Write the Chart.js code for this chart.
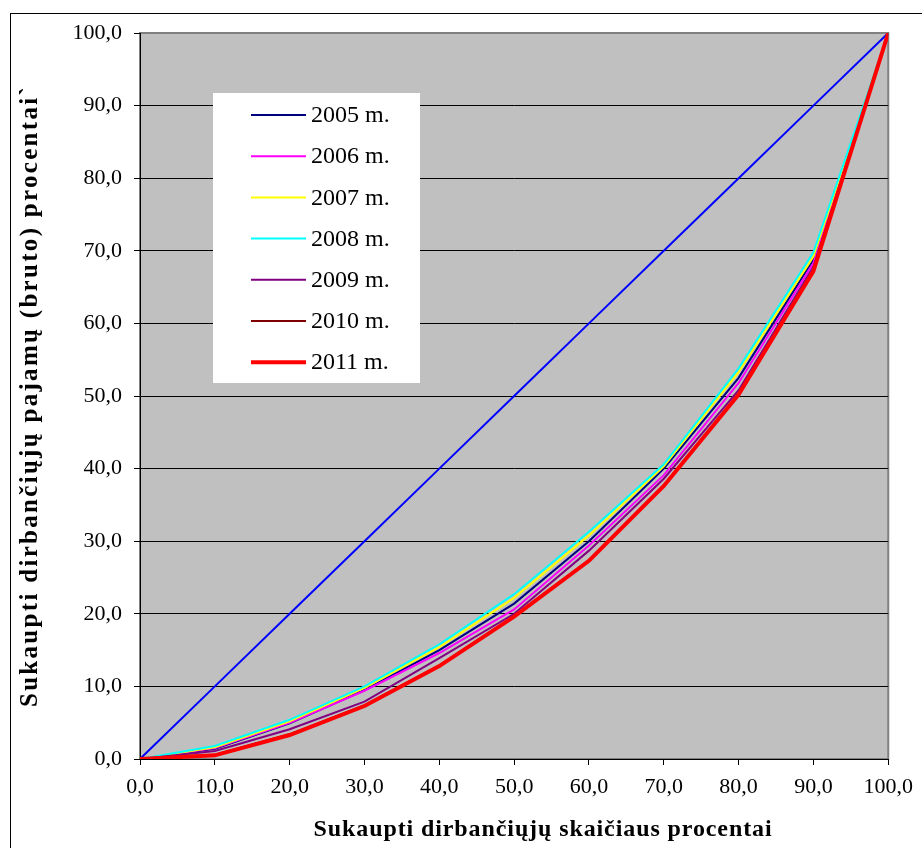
<!DOCTYPE html>
<html>
<head>
<meta charset="utf-8">
<title>Lorenz kreivės</title>
<script src="https://cdn.jsdelivr.net/npm/chart.js@4/dist/chart.umd.min.js"></script>
<style>
  html, body { margin: 0; padding: 0; background: #fff; }
  canvas { display: block; }
</style>
</head>
<body>
<canvas id="lorenz" width="922" height="848"></canvas>
<script>
// cumulative share of workers (x) and of gross income (y), per year
const workerShare = [0, 10, 20, 30, 40, 50, 60, 70, 80, 90, 100];
const equality    = [0, 10, 20, 30, 40, 50, 60, 70, 80, 90, 100];

const y2005 = [0, 1.4, 4.9, 9.5, 15.0, 21.4, 30.0, 40.0, 52.5, 68.8, 100];
const y2006 = [0, 1.5, 5.0, 9.4, 14.6, 20.6, 29.4, 39.1, 51.8, 68.3, 100];
const y2007 = [0, 1.6, 5.2, 9.8, 15.4, 22.2, 30.8, 40.3, 53.3, 69.2, 100];
const y2008 = [0, 1.8, 5.4, 10.0, 15.8, 22.7, 31.3, 40.6, 53.8, 69.8, 100];
const y2009 = [0, 1.1, 4.1, 7.9, 13.9, 20.0, 28.7, 38.6, 50.8, 67.8, 100];
const y2010 = [0, 0.6, 3.4, 7.4, 12.9, 19.7, 27.4, 37.7, 50.3, 67.3, 100];
const y2011 = [0, 0.5, 3.3, 7.3, 12.8, 19.6, 27.3, 37.6, 50.2, 67.2, 100];

const yearLabels = ["2005 m.", "2006 m.", "2007 m.", "2008 m.", "2009 m.", "2010 m.", "2011 m."];
const yearValues = [y2005, y2006, y2007, y2008, y2009, y2010, y2011];
const yearColors = ["#000080", "#FF00FF", "#FFFF00", "#00FFFF", "#800080", "#800000", "#FF0000"];
const yearWidths = [2, 2, 2, 2, 2, 2, 4];

const xTitle = "Sukaupti dirbančiųjų skaičiaus procentai";
const yTitle = "Sukaupti dirbančiųjų pajamų (bruto) procentai`";

const serif = "'Liberation Serif', 'Times New Roman', serif";

function toPoints(values) {
    return values.map((v, i) => ({ x: workerShare[i], y: v }));
}

const datasets = [{
    label: "",
    noLegend: true,
    data: toPoints(equality),
    borderColor: "#0000FF",
    borderWidth: 2,
    pointRadius: 0,
    order: 10
}];

yearValues.forEach((vals, i) => {
    datasets.push({
        label: yearLabels[i],
        data: toPoints(vals),
        borderColor: yearColors[i],
        borderWidth: yearWidths[i],
        pointRadius: 0,
        order: yearValues.length - i
    });
});

function fmt(v) {
    return v.toFixed(1).replace(".", ",");
}

// gray plot background, outer frame and both axis titles
const backdrop = {
    id: "backdrop",
    beforeDraw(chart) {
        const { ctx, chartArea: a } = chart;
        ctx.save();
        ctx.fillStyle = "#fff";
        ctx.fillRect(0, 0, chart.width, chart.height);
        ctx.strokeStyle = "#000";
        ctx.lineWidth = 1;
        ctx.strokeRect(10.5, 13.5, 1000, 1000);
        ctx.fillStyle = "#C0C0C0";
        ctx.fillRect(a.left, a.top, a.right - a.left, a.bottom - a.top);
        ctx.strokeStyle = "#808080";
        ctx.lineWidth = 2;
        ctx.strokeRect(a.left, a.top, a.right - a.left, a.bottom - a.top);

        ctx.fillStyle = "#000";
        ctx.textAlign = "center";
        ctx.textBaseline = "middle";
        ctx.font = "bold 24px " + serif;
        ctx.letterSpacing = "0.9px";
        ctx.fillText(xTitle, 543, 830);
        ctx.font = "bold 25px " + serif;
        ctx.letterSpacing = "2.3px";
        ctx.translate(31, (a.top + a.bottom) / 2);
        ctx.rotate(-Math.PI / 2);
        ctx.fillText(yTitle, 0, 0);
        ctx.restore();
    }
};

// legend box sitting inside the plot
const boxLegend = {
    id: "boxLegend",
    afterDatasetsDraw(chart) {
        const ctx = chart.ctx;
        ctx.save();
        ctx.fillStyle = "#fff";
        ctx.fillRect(213, 93, 207, 290);
        ctx.font = "24px " + serif;
        ctx.textBaseline = "middle";
        ctx.textAlign = "left";
        let y = 115;
        chart.data.datasets.forEach(ds => {
            if (ds.noLegend) return;
            ctx.strokeStyle = ds.borderColor;
            ctx.lineWidth = ds.borderWidth;
            ctx.beginPath();
            ctx.moveTo(251, y);
            ctx.lineTo(306, y);
            ctx.stroke();
            ctx.fillStyle = "#000";
            ctx.fillText(ds.label, 311, y + 1);
            y += 41.2;
        });
        ctx.restore();
    }
};

new Chart(document.getElementById("lorenz"), {
    type: "line",
    data: { datasets: datasets },
    plugins: [backdrop, boxLegend],
    options: {
        responsive: false,
        animation: false,
        layout: { padding: { left: 0, top: 33, right: 33, bottom: 0 } },
        elements: { line: { tension: 0 } },
        plugins: {
            legend: { display: false },
            tooltip: { enabled: false }
        },
        scales: {
            x: {
                type: "linear",
                min: 0,
                max: 100,
                afterFit: s => { s.height = 89; },
                ticks: {
                    stepSize: 10,
                    padding: 9,
                    color: "#000",
                    font: { family: serif, size: 22 },
                    maxRotation: 0,
                    callback: v => fmt(v)
                },
                grid: { drawOnChartArea: false, tickLength: 6, color: "#000" },
                border: { color: "#000", width: 1 }
            },
            y: {
                min: 0,
                max: 100,
                afterFit: s => { s.width = 140; },
                ticks: {
                    stepSize: 10,
                    padding: 12,
                    color: "#000",
                    font: { family: serif, size: 22 },
                    callback: v => fmt(v)
                },
                grid: {
                    tickLength: 6,
                    lineWidth: 1,
                    color: c => (c.tick && c.tick.value === 100 ? "#808080" : "#000"),
                    tickColor: "#000"
                },
                border: { color: "#000", width: 1 }
            }
        }
    }
});
</script>
</body>
</html>
